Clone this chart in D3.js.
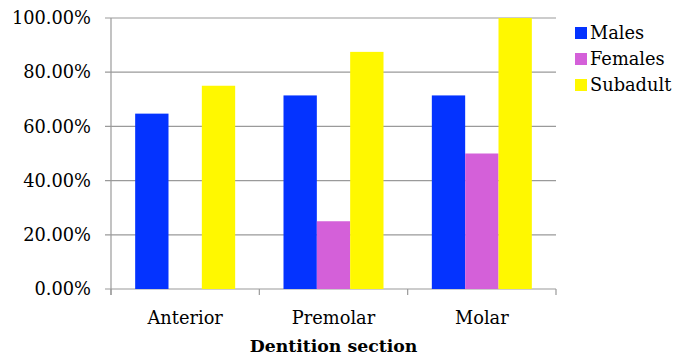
<!DOCTYPE html>
<html><head><meta charset="utf-8">
<script src="https://cdn.jsdelivr.net/npm/d3@7"></script>
<style>body{margin:0;background:#fff}svg{display:block}</style>
</head><body>
<svg id="c" width="675" height="360"></svg>
<script>
const categories = ["Anterior", "Premolar", "Molar"];
const seriesNames = ["Males", "Females", "Subadult"];
const males = [0.6471, 0.7143, 0.7143];
const females = [null, 0.25, 0.50];
const subadult = [0.75, 0.875, 1.00];
const yTicks = [0, 0.2, 0.4, 0.6, 0.8, 1.0];
const colors = ["#0433FF", "#D460D9", "#FFF800"];
const seriesValues = [males, females, subadult];

(function () {
const svg = d3.select("#c");
const font = "'DejaVu Serif', serif";
const fs = 17.8;
const pLeft = 111, pRight = 556, pTop = 18, pBottom = 289;

const x = d3.scaleBand().domain(categories).range([pLeft, pRight]).paddingInner(0).paddingOuter(0);
const inner = d3.scaleBand().domain(seriesNames).range([0, x.bandwidth()]).paddingInner(0).paddingOuter(0.725);
const y = d3.scaleLinear().domain([0, 1]).range([pBottom, pTop]);

// gridlines
svg.append("g").selectAll("line").data(yTicks).join("line")
  .attr("x1", pLeft - 6).attr("x2", pRight)
  .attr("y1", d => y(d)).attr("y2", d => y(d))
  .attr("stroke", "#9a9a9a").attr("stroke-width", 1.2);

// y axis line
svg.append("line").attr("x1", pLeft).attr("x2", pLeft).attr("y1", pTop).attr("y2", pBottom + 6)
  .attr("stroke", "#9a9a9a").attr("stroke-width", 1.2);

// y tick labels
svg.append("g").selectAll("text").data(yTicks).join("text")
  .attr("x", 91).attr("y", d => y(d)).attr("dy", "0.35em")
  .attr("text-anchor", "end").attr("font-family", font).attr("font-size", fs)
  .attr("fill", "#000")
  .text(d => d3.format(".2%")(d));

// bars
categories.forEach((c, i) => {
  seriesNames.forEach((s, j) => {
    const v = seriesValues[j][i];
    if (v == null) return;
    svg.append("rect")
      .attr("x", x(c) + inner(s)).attr("width", inner.bandwidth())
      .attr("y", y(v)).attr("height", y(0) - y(v))
      .attr("fill", colors[j]);
  });
});

// x axis ticks
const xTickPos = categories.map(c => x(c)).concat([pRight]);
svg.append("g").selectAll("line").data(xTickPos).join("line")
  .attr("x1", d => d).attr("x2", d => d).attr("y1", pBottom).attr("y2", pBottom + 6)
  .attr("stroke", "#9a9a9a").attr("stroke-width", 1.2);

// x labels
svg.append("g").selectAll("text").data(categories).join("text")
  .attr("x", d => x(d) + x.bandwidth() / 2).attr("y", 324)
  .attr("text-anchor", "middle").attr("font-family", font).attr("font-size", fs)
  .attr("fill", "#000").text(d => d);

svg.append("text").attr("x", (pLeft + pRight) / 2).attr("y", 352)
  .attr("text-anchor", "middle").attr("font-family", font).attr("font-size", 17.3)
  .attr("font-weight", "bold").attr("fill", "#000").text("Dentition section");

// legend
const lg = svg.append("g");
seriesNames.forEach((s, j) => {
  lg.append("rect").attr("x", 575).attr("y", 27 + j * 26).attr("width", 12).attr("height", 12).attr("fill", colors[j]);
  lg.append("text").attr("x", 590).attr("y", 39 + j * 26).attr("font-family", font).attr("font-size", fs)
    .attr("fill", "#000").text(s);
});
})();
</script>
</body></html>
